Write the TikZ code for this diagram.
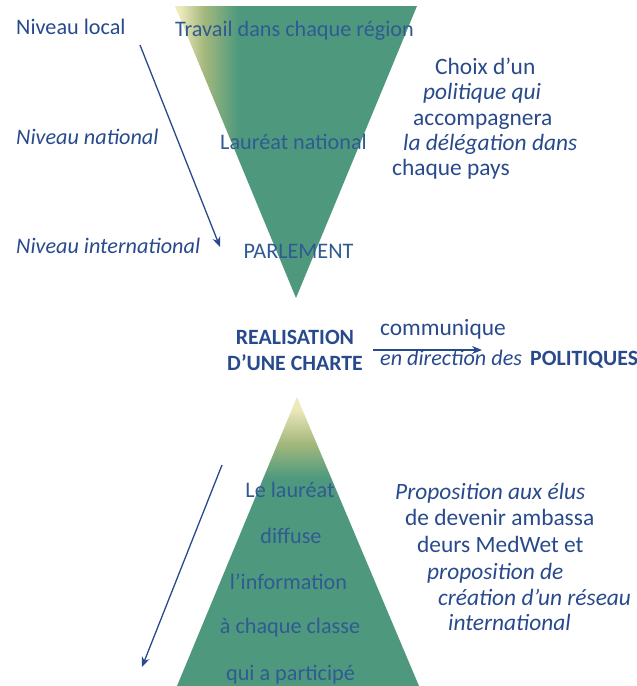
\documentclass[tikz,border=0pt]{standalone}
\usepackage{fontspec}
\setmainfont{Carlito}
\usetikzlibrary{positioning,arrows.meta}
\definecolor{inkblue}{RGB}{40,74,140}
\definecolor{triblue}{RGB}{48,90,146}
\definecolor{seagreen}{RGB}{78,153,126}
\definecolor{paleyel}{RGB}{236,233,188}
\definecolor{olivegr}{RGB}{164,184,124}
\pgfdeclarehorizontalshading{topfade}{100bp}{color(0bp)=(paleyel); color(26bp)=(paleyel); color(31bp)=(olivegr); color(38bp)=(seagreen); color(100bp)=(seagreen)}
\pgfdeclareverticalshading{tipfade}{100bp}{color(0bp)=(seagreen); color(61bp)=(seagreen); color(67bp)=(olivegr); color(73bp)=(paleyel); color(100bp)=(paleyel)}
\tikzset{txt/.style={inner sep=0pt,text=inkblue,font=\fontsize{22.2}{24}\selectfont}}
\tikzset{txtit/.style={txt,font=\fontsize{22.2}{24}\selectfont\itshape}}
\tikzset{txtbf/.style={txt,font=\fontsize{21.8}{24}\selectfont\bfseries}}
\tikzset{side/.style={txt,font=\fontsize{23.4}{24}\selectfont}}
\tikzset{sideit/.style={txt,font=\fontsize{23.4}{24}\selectfont\itshape}}
\tikzset{intri/.style={txt,text=triblue}}
\tikzset{flow/.style={-{Stealth[length=10pt,width=8pt]},inkblue,line width=1.3pt}}

\begin{document}
\begin{tikzpicture}[x=1pt,y=-1pt]
	\useasboundingbox (0,0) rectangle (637,686);

	%% the two triangles
	\coordinate (ttl) at (175,6);
	\coordinate (ttr) at (417,6);
	\coordinate (ttip) at (296,298);
	\shade[shading=topfade] (ttl) -- (ttr) -- (ttip) -- cycle;
	\coordinate (btip) at (297,397);
	\coordinate (bbl) at (177,686);
	\coordinate (bbr) at (419,686);
	\shade[shading=tipfade] (btip) -- (bbr) -- (bbl) -- cycle;

	%% levels on the left
	\node[txt,anchor=mid west] (local) at (16,32) {Niveau local};
	\node[txtit,anchor=mid west] (national) at (16,142) {Niveau national};
	\node[txtit,anchor=mid west] (inter) at (16,251) {Niveau international};
	\coordinate (down from) at (140,45);
	\coordinate (down to) at (220,247);
	\draw[flow] (down from) -- (down to);

	%% inside the top triangle
	\node[intri] (travail) at (294.5,31) {Travail dans chaque région};
	\node[intri] (laureat) at (293.5,142) {Lauréat national};
	\node[intri] (parlement) at (298.5,251) {PARLEMENT};

	%% right block, top
	\node[side,anchor=mid west] (choix) at (435,72) {Choix d’un};
	\node[sideit,anchor=mid west] (politique) at (423,97) {politique qui};
	\node[side,anchor=mid west] (accomp) at (413,123) {accompagnera};
	\node[sideit,anchor=mid west] (delegation) at (403,148) {la délégation dans};
	\node[side,anchor=mid west] (pays) at (392,173) {chaque pays};

	%% middle line
	\node[txtbf] (realis) at (295,337) {REALISATION};
	\node[txtbf] (charte) at (295,363) {D’UNE CHARTE};
	\node[side,anchor=mid west] (communique) at (380,333) {communique};
	\node[txtit,anchor=mid west] (direction) at (380,363) {en direction des};
	\node[txtbf,anchor=mid west] (politiques) at (530,363) {POLITIQUES};
	\coordinate (comm from) at (373,350);
	\coordinate (comm to) at (482,350);
	\draw[flow] (comm from) -- (comm to);

	%% inside the bottom triangle
	\node[intri] (lelaureat) at (290,490) {Le lauréat};
	\node[intri] (diffuse) at (291,536) {diffuse};
	\node[intri] (information) at (288.5,582) {l’information};
	\node[intri] (classe) at (290,628) {à chaque classe};
	\node[intri] (participe) at (290.5,675) {qui a participé};
	\coordinate (diff from) at (222,465);
	\coordinate (diff to) at (142,667);
	\draw[flow] (diff from) -- (diff to);

	%% right block, bottom
	\node[sideit,anchor=mid west] (elus) at (395,497) {Proposition aux élus};
	\node[side,anchor=mid west] (ambassa) at (405,523) {de devenir ambassa};
	\node[side,anchor=mid west] (medwet) at (417,550) {deurs MedWet et};
	\node[sideit,anchor=mid west] (propo) at (427,577) {proposition de};
	\node[sideit,anchor=mid west] (reseau) at (438,603) {création d’un réseau};
	\node[sideit,anchor=mid west] (international) at (448,628) {international};

\end{tikzpicture}
\end{document}
